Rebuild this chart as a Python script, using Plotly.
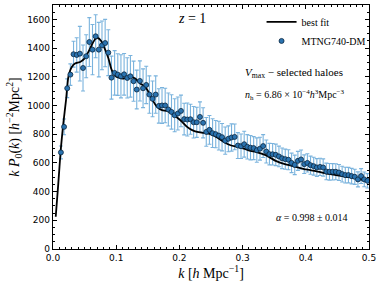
import plotly.graph_objects as go

# ---- data ----
k_start = 0.0125
k_step = 0.005
kP0_data = [673, 851, 1120, 1215, 1357, 1352, 1361, 1261, 1343, 1442,
            1389, 1482, 1389, 1419, 1435, 1368, 1194, 1227, 1215, 1203,
            1217, 1192, 1203, 1169, 1111, 1171, 1120, 1143, 1076, 1046,
            1076, 997, 1000, 1000, 972, 955, 932, 944, 962, 905,
            902, 904, 883, 883, 920, 879, 816, 830, 807, 800,
            790, 779, 755, 768, 777, 781, 721, 716, 730, 712,
            706, 703, 689, 699, 717, 679, 661, 660, 656, 645,
            632, 626, 622, 600, 586, 614, 624, 591, 600, 584,
            577, 568, 572, 568, 540, 538, 538, 538, 533, 522,
            515, 515, 508, 503, 485, 508, 485, 475]
kP0_err = [45, 55, 65, 75, 90, 120, 190, 160, 150, 170,
           175, 150, 190, 170, 165, 160, 150, 155, 145, 150,
           145, 140, 145, 140, 135, 140, 135, 130, 130, 125,
           130, 120, 125, 120, 115, 120, 115, 115, 110, 110,
           115, 105, 110, 105, 105, 105, 100, 100, 100, 95,
           100, 95, 95, 90, 95, 90, 90, 85, 90, 85,
           85, 80, 85, 80, 80, 80, 75, 75, 75, 72,
           72, 70, 70, 68, 68, 66, 66, 65, 64, 63,
           62, 62, 60, 60, 58, 58, 57, 56, 56, 55,
           55, 54, 54, 53, 52, 52, 51, 50]
k_data = [round(k_start + k_step * i, 4) for i in range(len(kP0_data))]

k_fit = [0.0043, 0.0084, 0.0122, 0.0163, 0.0206, 0.0243, 0.0297, 0.0349, 0.0429, 0.0497,
         0.056, 0.0624, 0.0667, 0.071, 0.0762, 0.0825, 0.0878, 0.0921, 0.0973, 0.1063,
         0.1116, 0.1222, 0.1302, 0.1381, 0.146, 0.154, 0.1592, 0.1646, 0.1725, 0.1805,
         0.1884, 0.1963, 0.2043, 0.2122, 0.2202, 0.2281, 0.2386, 0.2492, 0.2598, 0.2703,
         0.281, 0.2916, 0.302, 0.3127, 0.3206, 0.3365, 0.3524, 0.3683, 0.3841, 0.4,
         0.4159, 0.4317, 0.4476, 0.4635, 0.4794, 0.4952, 0.5]
kP0_fit = [225, 457, 689, 874, 1037, 1199, 1268, 1292, 1303, 1327,
           1373, 1431, 1462, 1470, 1449, 1389, 1327, 1257, 1210, 1190,
           1188, 1199, 1187, 1153, 1129, 1071, 1025, 990, 967, 962,
           944, 916, 886, 851, 828, 816, 809, 800, 777, 746,
           723, 712, 700, 684, 677, 654, 614, 589, 572, 554,
           543, 527, 515, 503, 492, 475, 470]

x_ticks = [0.0, 0.1, 0.2, 0.3, 0.4, 0.5]
x_ticklabels = ["0.0", "0.1", "0.2", "0.3", "0.4", "0.5"]
y_ticks = [0, 200, 400, 600, 800, 1000, 1200, 1400, 1600]

SERIF = "Liberation Serif, DejaVu Serif, serif"
SANS = "DejaVu Sans, sans-serif"
PT_COLOR = "#2a73b0"
ERR_COLOR = "#7ab3dd"

fig = go.Figure()
# error bars (drawn beneath the fit line)
fig.add_trace(go.Scatter(
    x=k_data, y=kP0_data, mode="markers", showlegend=False, hoverinfo="skip",
    marker=dict(color="rgba(0,0,0,0)", size=1),
    error_y=dict(type="data", array=kP0_err, visible=True,
                 color=ERR_COLOR, thickness=1.1, width=2),
))
fig.add_trace(go.Scatter(
    x=k_fit, y=kP0_fit, mode="lines", name="best fit",
    line=dict(color="black", width=1.8, shape="spline", smoothing=0.5),
))
fig.add_trace(go.Scatter(
    x=k_data, y=kP0_data, mode="markers", name="MTNG740-DM",
    marker=dict(color=PT_COLOR, size=5, line=dict(color="#0b2740", width=0.8)),
))

axis_common = dict(
    showline=True, linecolor="black", linewidth=1.3, mirror="ticks",
    ticks="inside", ticklen=4, tickwidth=1, tickcolor="black",
    showgrid=False, zeroline=False,
    tickfont=dict(family=SANS, size=9, color="black"),
)

fig.update_xaxes(
    range=[0, 0.5], tickvals=x_ticks, ticktext=x_ticklabels,
    minor=dict(dtick=0.01, ticks="inside", ticklen=2, tickcolor="black", showgrid=False),
    title=dict(text="<i>k</i> [<i>h</i> Mpc<sup>−1</sup>]",
               font=dict(family=SERIF, size=14, color="black"), standoff=4),
    **axis_common,
)
fig.update_yaxes(
    range=[0, 1700], tickvals=y_ticks,
    minor=dict(dtick=50, ticks="inside", ticklen=2, tickcolor="black", showgrid=False),
    title=dict(text="<i>k P</i><sub>0</sub>(<i>k</i>) [<i>h</i><sup>−2</sup>Mpc<sup>2</sup>]",
               font=dict(family=SERIF, size=14, color="black"), standoff=4),
    **axis_common,
)

fig.add_annotation(x=0.44, y=0.985, xref="paper", yref="paper", xanchor="center", yanchor="top",
                   text="<i>z</i> = 1", showarrow=False,
                   font=dict(family=SERIF, size=14, color="black"))
fig.add_annotation(x=0.6, y=0.72, xref="paper", yref="paper", xanchor="left", yanchor="middle",
                   text="<i>V</i><sub>max</sub> − selected haloes", showarrow=False,
                   font=dict(family=SERIF, size=11, color="black"))
fig.add_annotation(x=0.6, y=0.63, xref="paper", yref="paper", xanchor="left", yanchor="middle",
                   text="<i>n</i><sub>h</sub> = 6.86 × 10<sup>−4</sup><i>h</i><sup>3</sup>Mpc<sup>−3</sup>",
                   showarrow=False, font=dict(family=SERIF, size=10, color="black"))
fig.add_annotation(x=0.7, y=0.13, xref="paper", yref="paper", xanchor="left", yanchor="middle",
                   text="<i>α</i> = 0.998 ± 0.014", showarrow=False,
                   font=dict(family=SERIF, size=10, color="black"))

fig.update_layout(
    width=382, height=287,
    margin=dict(l=53, r=13, t=5, b=38),
    paper_bgcolor="white", plot_bgcolor="white",
    showlegend=True,
    legend=dict(x=0.66, y=0.99, xanchor="left", yanchor="top",
                bgcolor="rgba(255,255,255,0)", borderwidth=0,
                font=dict(family=SERIF, size=10, color="black"),
                itemwidth=30, tracegroupgap=0),
)

fig.write_html("out.html", config={"displayModeBar": False},
               post_script="document.body.style.margin='0px';document.body.style.padding='0px';")
